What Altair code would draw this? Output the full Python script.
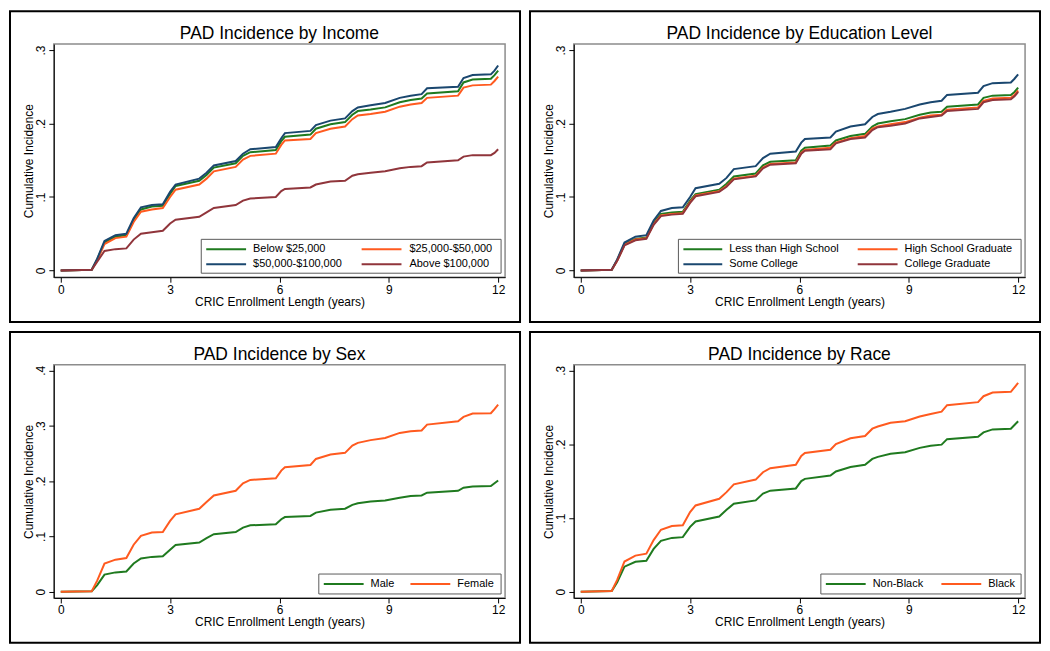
import altair as alt
import pandas as pd

# time grid (years)
T = [0, 0.85, 1.0, 1.2, 1.5, 1.8, 2.0, 2.2, 2.5, 2.8, 3.0, 3.15, 3.8, 4.0, 4.2, 4.8, 5.0, 5.2, 5.9,
     6.05, 6.15, 6.85, 7.0, 7.4, 7.8, 8.0, 8.15, 8.5, 8.9, 9.3, 9.6, 9.9, 10.05, 10.9, 11.05, 11.3,
     11.8, 11.9, 12.0]

# Income
inc_names = ["Below $25,000", "$25,000-$50,000", "$50,000-$100,000", "Above $100,000"]
inc_below25 = [0, 0.001, 0.015, 0.038, 0.046, 0.048, 0.068, 0.083, 0.087, 0.088, 0.104, 0.115, 0.122, 0.130,
               0.140, 0.146, 0.156, 0.161, 0.164, 0.176, 0.182, 0.185, 0.193, 0.199, 0.202, 0.212, 0.217,
               0.219, 0.222, 0.229, 0.232, 0.234, 0.241, 0.244, 0.256, 0.260, 0.261, 0.266, 0.272]
inc_25_50 = [0, 0.001, 0.014, 0.036, 0.044, 0.046, 0.066, 0.080, 0.083, 0.085, 0.100, 0.110, 0.117, 0.125,
             0.135, 0.141, 0.151, 0.156, 0.159, 0.171, 0.177, 0.179, 0.187, 0.193, 0.196, 0.206, 0.211,
             0.213, 0.216, 0.223, 0.226, 0.228, 0.235, 0.238, 0.249, 0.252, 0.253, 0.258, 0.264]
inc_50_100 = [0, 0.001, 0.016, 0.040, 0.048, 0.050, 0.071, 0.086, 0.089, 0.090, 0.107, 0.117, 0.125, 0.133,
              0.143, 0.149, 0.159, 0.165, 0.168, 0.180, 0.187, 0.190, 0.198, 0.204, 0.207, 0.217, 0.222,
              0.225, 0.228, 0.235, 0.238, 0.240, 0.248, 0.250, 0.262, 0.266, 0.267, 0.272, 0.279]
inc_above100 = [0, 0.001, 0.012, 0.0265, 0.029, 0.030, 0.042, 0.050, 0.052, 0.054, 0.064, 0.069, 0.073, 0.079,
                0.085, 0.089, 0.095, 0.098, 0.100, 0.108, 0.111, 0.113, 0.117, 0.121, 0.122, 0.129, 0.131,
                0.133, 0.135, 0.139, 0.141, 0.142, 0.147, 0.150, 0.155, 0.157, 0.157, 0.160, 0.165]

# Education
edu_names = ["Less than High School", "High School Graduate", "Some College", "College Graduate"]
edu_lths = [0, 0.001, 0.014, 0.036, 0.043, 0.045, 0.065, 0.077, 0.079, 0.080, 0.095, 0.104, 0.110, 0.118,
            0.128, 0.132, 0.143, 0.148, 0.150, 0.163, 0.167, 0.170, 0.177, 0.183, 0.186, 0.196, 0.200,
            0.203, 0.206, 0.212, 0.215, 0.216, 0.223, 0.226, 0.235, 0.238, 0.239, 0.243, 0.249]
edu_hsg = [0, 0.001, 0.013, 0.035, 0.042, 0.044, 0.063, 0.075, 0.077, 0.078, 0.093, 0.102, 0.108, 0.115,
           0.125, 0.129, 0.140, 0.145, 0.147, 0.160, 0.164, 0.167, 0.174, 0.180, 0.183, 0.193, 0.196,
           0.199, 0.202, 0.208, 0.211, 0.212, 0.219, 0.222, 0.231, 0.234, 0.235, 0.239, 0.245]
edu_some = [0, 0.001, 0.015, 0.038, 0.046, 0.048, 0.068, 0.081, 0.085, 0.086, 0.100, 0.112, 0.118, 0.126,
            0.138, 0.142, 0.153, 0.159, 0.162, 0.174, 0.179, 0.181, 0.189, 0.196, 0.199, 0.209, 0.213,
            0.216, 0.220, 0.226, 0.229, 0.231, 0.239, 0.242, 0.251, 0.255, 0.256, 0.261, 0.267]
edu_cg = [0, 0.001, 0.013, 0.034, 0.041, 0.043, 0.062, 0.074, 0.076, 0.077, 0.092, 0.101, 0.107, 0.114,
          0.124, 0.128, 0.139, 0.144, 0.146, 0.159, 0.163, 0.165, 0.173, 0.179, 0.181, 0.191, 0.195,
          0.197, 0.200, 0.207, 0.209, 0.211, 0.217, 0.220, 0.229, 0.232, 0.233, 0.237, 0.243]

# Sex
sex_names = ["Male", "Female"]
sex_male = [0, 0.001, 0.012, 0.031, 0.035, 0.0367, 0.051, 0.060, 0.063, 0.064, 0.076, 0.0845, 0.089, 0.097,
            0.104, 0.108, 0.116, 0.120, 0.122, 0.131, 0.135, 0.137, 0.143, 0.148, 0.150, 0.157, 0.160,
            0.163, 0.165, 0.170, 0.173, 0.174, 0.179, 0.1825, 0.188, 0.190, 0.191, 0.196, 0.201]
sex_female = [0, 0.001, 0.020, 0.051, 0.058, 0.061, 0.085, 0.101, 0.107, 0.108, 0.128, 0.140, 0.150, 0.162,
              0.174, 0.1825, 0.196, 0.202, 0.205, 0.219, 0.225, 0.229, 0.240, 0.248, 0.251, 0.264, 0.269,
              0.274, 0.278, 0.287, 0.290, 0.2915, 0.302, 0.308, 0.316, 0.322, 0.3225, 0.330, 0.338]

# Race
race_names = ["Non-Black", "Black"]
race_nonblack = [0, 0.001, 0.013, 0.034, 0.0407, 0.042, 0.058, 0.069, 0.073, 0.074, 0.088, 0.0953, 0.102,
                 0.111, 0.1194, 0.1238, 0.133, 0.137, 0.140, 0.150, 0.153, 0.1574, 0.163, 0.169, 0.172,
                 0.180, 0.1828, 0.187, 0.189, 0.195, 0.198, 0.1994, 0.2068, 0.210, 0.216, 0.220, 0.221,
                 0.226, 0.231]
race_black = [0, 0.001, 0.016, 0.041, 0.049, 0.0516, 0.070, 0.084, 0.089, 0.090, 0.108, 0.117, 0.126, 0.135,
              0.1456, 0.152, 0.162, 0.1675, 0.172, 0.184, 0.188, 0.1924, 0.200, 0.208, 0.211, 0.221, 0.224,
              0.229, 0.231, 0.2375, 0.241, 0.244, 0.2528, 0.257, 0.265, 0.270, 0.271, 0.277, 0.283]

GREEN = "#1f7a1f"
ORANGE = "#ff5a1f"
NAVY = "#1a476f"
MAROON = "#90353b"

x_ticks = [0, 3, 6, 9, 12]
PW, PH = 453, 234
ONE = pd.DataFrame({"k": [0]})


def legend_layers(names, colors, box, cols, rows):
    """box=(x1,x2,y1,y2) offsets from plot right/bottom; cols=[(lx1,lx2,tx)...]; rows=[y...]"""
    layers = [alt.Chart(ONE).mark_rect(fill="white", stroke="#5a5a5a", strokeWidth=1).encode(
        x=alt.value(PW + box[0]), x2=alt.value(PW + box[1]),
        y=alt.value(PH + box[2]), y2=alt.value(PH + box[3]))]
    ncol = len(cols)
    for i, (name, col) in enumerate(zip(names, colors)):
        lx1, lx2, tx = cols[i % ncol]
        ry = rows[i // ncol]
        layers.append(alt.Chart(ONE).mark_rule(strokeWidth=2, color=col).encode(
            x=alt.value(PW + lx1), x2=alt.value(PW + lx2), y=alt.value(PH + ry)))
        layers.append(alt.Chart(ONE).mark_text(align="left", baseline="middle", fontSize=11,
                                               color="black").encode(
            x=alt.value(PW + tx), y=alt.value(PH + ry), text=alt.value(name)))
    return layers


def panel(title, names, series, colors, ydomain, yticks, box, cols, rows):
    recs = []
    for name, vals in zip(names, series):
        for t, v in zip(T, vals):
            recs.append({"t": t, "v": v, "g": name})
    df = pd.DataFrame(recs)
    lines = alt.Chart(df).mark_line(strokeWidth=2).encode(
        x=alt.X("t:Q",
                scale=alt.Scale(domain=[-0.19, 12.19], nice=False, zero=False),
                axis=alt.Axis(values=x_ticks, title="CRIC Enrollment Length (years)",
                              labelFontSize=12, titleFontSize=12, tickSize=5,
                              labelPadding=2, titlePadding=1, grid=False,
                              domainColor="black", tickColor="black",
                              labelColor="black", titleColor="black",
                              titleFontWeight="normal")),
        y=alt.Y("v:Q",
                scale=alt.Scale(domain=ydomain, nice=False, zero=False),
                axis=alt.Axis(values=yticks, title="Cumulative Incidence",
                              labelExpr="datum.value == 0 ? '0' : replace(format(datum.value, '.1f'), '0.', '.')",
                              labelAngle=270, labelAlign="center", labelBaseline="bottom",
                              labelFontSize=12, titleFontSize=12, tickSize=5,
                              labelPadding=1, titlePadding=-1, grid=False,
                              domainColor="black", tickColor="black",
                              labelColor="black", titleColor="black",
                              titleFontWeight="normal")),
        color=alt.Color("g:N", sort=names,
                        scale=alt.Scale(domain=names, range=colors), legend=None),
    )
    border = alt.Chart(ONE).mark_rect(filled=False, stroke="black", strokeWidth=2).encode(
        x=alt.value(-44), x2=alt.value(PW + 15),
        y=alt.value(-33), y2=alt.value(PH + 45),
    )
    ttl = alt.Chart(ONE).mark_text(align="center", baseline="alphabetic", fontSize=17.5,
                                   color="black").encode(
        x=alt.value(PW / 2), y=alt.value(-5), text=alt.value(title))
    return alt.layer(lines, *legend_layers(names, colors, box, cols, rows), border, ttl).properties(
        width=PW, height=PH)


p1 = panel("PAD Incidence by Income", inc_names,
           [inc_below25, inc_25_50, inc_50_100, inc_above100],
           [GREEN, ORANGE, NAVY, MAROON], [-0.0092, 0.3082], [0, 0.1, 0.2, 0.3],
           box=(-305, -4, -38, -4),
           cols=[(-300, -260, -253), (-144, -104, -96)], rows=[-28, -13])
p2 = panel("PAD Incidence by Education Level", edu_names,
           [edu_lths, edu_hsg, edu_some, edu_cg],
           [GREEN, ORANGE, NAVY, MAROON], [-0.0092, 0.3082], [0, 0.1, 0.2, 0.3],
           box=(-348, -4, -38, -4),
           cols=[(-343, -304, -297), (-168, -128, -121)], rows=[-28, -13])
p3 = panel("PAD Incidence by Sex", sex_names, [sex_male, sex_female],
           [GREEN, ORANGE], [-0.0112, 0.41], [0, 0.1, 0.2, 0.3, 0.4],
           box=(-187, -4, -24, -4),
           cols=[(-182, -142, -135), (-95, -55, -48)], rows=[-14])
p4 = panel("PAD Incidence by Race", race_names, [race_nonblack, race_black],
           [GREEN, ORANGE], [-0.0084, 0.3075], [0, 0.1, 0.2, 0.3],
           box=(-205, -4, -24, -4),
           cols=[(-200, -160, -153), (-84, -44, -37)], rows=[-14])

top = alt.hconcat(p1, p2, spacing=6).resolve_scale(color="independent")
bottom = alt.hconcat(p3, p4, spacing=6).resolve_scale(color="independent")
chart = alt.vconcat(top, bottom, spacing=6).resolve_scale(color="independent").properties(
    padding=0
).configure(font="Liberation Sans").configure_view(stroke="#8c8c8c", strokeWidth=1.5)

chart.save("out.html", embed_options={"renderer": "svg", "actions": False})
